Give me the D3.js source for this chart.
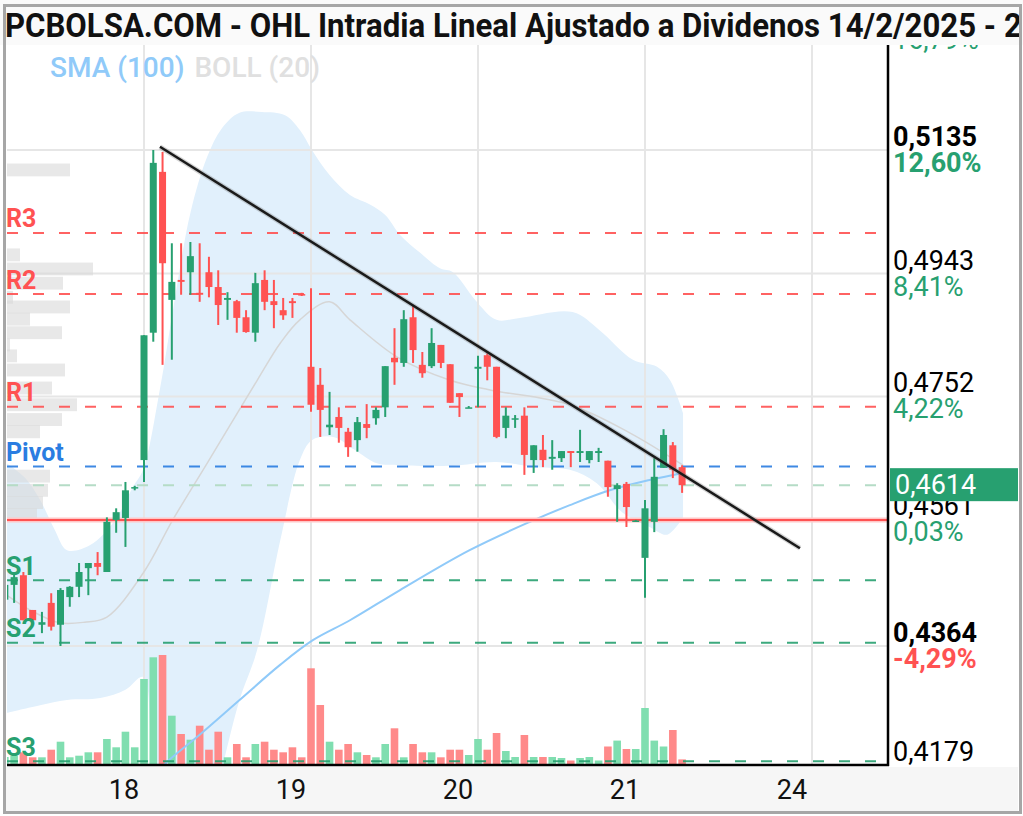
<!DOCTYPE html>
<html>
<head>
<meta charset="utf-8">
<script src="https://cdn.jsdelivr.net/npm/d3@7"></script>
<style>
  body { margin: 0; background: #fff; }
  svg { display: block; font-family: Roboto, "Noto Sans", sans-serif; }
</style>
</head>
<body>
<div id="chart"></div>
<script>
// ---- datos (velas de 30 min, 18 huecos por dia) ----
const firstSlot = -15; // primer hueco visible: slot 3 del dia 17

const opens = [
  0.4436, 0.4459, 0.4474, 0.4420, 0.4397, 0.4431, 0.4397, 0.4440, 0.4456, 0.4485, 0.4493, 0.4479, 0.4560, 0.4563, 0.4610,
  0.4653, 0.4851, 0.5101, 0.4902, 0.4933, 0.4945, 0.4913, 0.4945, 0.4922, 0.4902, 0.4900, 0.4875, 0.4851, 0.4933, 0.4900, 0.4886, 0.4900, 0.4911,
  0.4798, 0.4770, 0.4704, 0.4720, 0.4697, 0.4684, 0.4709, 0.4718, 0.4735, 0.4812, 0.4804, 0.4875, 0.4801, 0.4799, 0.4832, 0.4802, 0.4757, 0.4735,
  0.4795, 0.4816, 0.4798, 0.4703, 0.4716, 0.4722, 0.4653, 0.4669, 0.4655, 0.4656, 0.4667, 0.4664, 0.4653, 0.4664, 0.4652, 0.4608, 0.4616, 0.4558,
  0.4501, 0.4557, 0.4641, 0.4676, 0.4642
];
const highs = [
  0.4471, 0.4479, 0.4479, 0.4420, 0.4417, 0.4446, 0.4454, 0.4457, 0.4493, 0.4493, 0.4510, 0.4564, 0.4578, 0.4619, 0.4613,
  0.4847, 0.5135, 0.5132, 0.4990, 0.4990, 0.4992, 0.4990, 0.4969, 0.4948, 0.4914, 0.4902, 0.4886, 0.4944, 0.4948, 0.4933, 0.4905, 0.4905, 0.4913,
  0.4920, 0.4796, 0.4759, 0.4735, 0.4703, 0.4720, 0.4740, 0.4735, 0.4799, 0.4858, 0.4886, 0.4894, 0.4821, 0.4858, 0.4832, 0.4802, 0.4757, 0.4737,
  0.4815, 0.4819, 0.4798, 0.4735, 0.4723, 0.4735, 0.4676, 0.4692, 0.4684, 0.4667, 0.4667, 0.4700, 0.4667, 0.4672, 0.4652, 0.4617, 0.4619, 0.4560,
  0.4591, 0.4656, 0.4701, 0.4681, 0.4645
];
const lows = [
  0.4415, 0.4431, 0.4404, 0.4404, 0.4384, 0.4388, 0.4364, 0.4425, 0.4440, 0.4443, 0.4474, 0.4479, 0.4540, 0.4518, 0.4606,
  0.4619, 0.4837, 0.4801, 0.4809, 0.4910, 0.4910, 0.4899, 0.4906, 0.4863, 0.4871, 0.4851, 0.4851, 0.4837, 0.4886, 0.4858, 0.4871, 0.4874, 0.4908,
  0.4728, 0.4689, 0.4692, 0.4680, 0.4658, 0.4666, 0.4687, 0.4708, 0.4720, 0.4770, 0.4798, 0.4804, 0.4781, 0.4796, 0.4796, 0.4742, 0.4720, 0.4734,
  0.4735, 0.4777, 0.4687, 0.4687, 0.4703, 0.4630, 0.4633, 0.4642, 0.4638, 0.4650, 0.4642, 0.4650, 0.4648, 0.4650, 0.4596, 0.4557, 0.4549, 0.4557,
  0.4439, 0.4541, 0.4641, 0.4625, 0.4602
];
const closes = [
  0.4459, 0.4471, 0.4404, 0.4404, 0.4401, 0.4394, 0.4451, 0.4456, 0.4479, 0.4493, 0.4487, 0.4557, 0.4572, 0.4606, 0.4611,
  0.4847, 0.5115, 0.4959, 0.4930, 0.4930, 0.4970, 0.4910, 0.4922, 0.4894, 0.4905, 0.4874, 0.4852, 0.4928, 0.4899, 0.4894, 0.4878, 0.4897, 0.4910,
  0.4739, 0.4731, 0.4708, 0.4703, 0.4673, 0.4712, 0.4703, 0.4731, 0.4799, 0.4805, 0.4872, 0.4824, 0.4788, 0.4835, 0.4804, 0.4742, 0.4751, 0.4735,
  0.4798, 0.4798, 0.4689, 0.4722, 0.4718, 0.4661, 0.4676, 0.4653, 0.4658, 0.4667, 0.4664, 0.4667, 0.4667, 0.4667, 0.4611, 0.4614, 0.4580, 0.4559,
  0.4578, 0.4627, 0.4692, 0.4638, 0.4614
];
const volumes = [
  80, 93, 127, 77, 77, 153, 233, 77, 93, 127, 127, 260, 177, 333, 177,
  860, 1077, 1100, 493, 310, 253, 393, 153, 333, 77, 210, 77, 210, 233, 153, 127, 177, 77,
  967, 600, 233, 153, 210, 127, 100, 77, 210, 367, 77, 210, 127, 127, 77, 153, 153, 100,
  260, 153, 320, 140, 80, 300, 80, 80, 80, 70, 45, 70, 80, 45, 185, 244, 160, 160,
  570, 244, 185, 350, 56
];

// Bandas de Bollinger (20) y SMA (100), puntos leidos (indice de hueco, precio)
const bollUpperIdx = [-14.8, -12.8, -11.2, -9.6, -8.3, -5.8, -3.1, -1.2, -0.1, 1.7, 3.3, 5.0, 6.8, 8.4, 10.3, 12.7, 15.2, 16.8, 18.1, 20.0, 22.2, 24.4, 26.0, 27.6, 29.7, 31.9, 33.3, 35.7, 38.0, 40.5, 46.2, 49.1, 52.7, 55.3, 56.7, 58.1];
const bollUpper = [0.4648, 0.4625, 0.4591, 0.4544, 0.4513, 0.4521, 0.4560, 0.4611, 0.4638, 0.4762, 0.4902, 0.5037, 0.5124, 0.5169, 0.5193, 0.5194, 0.5189, 0.5166, 0.5135, 0.5096, 0.5065, 0.5050, 0.5034, 0.5003, 0.4976, 0.4951, 0.4945, 0.4902, 0.4871, 0.4874, 0.4883, 0.4855, 0.4809, 0.4798, 0.4777, 0.4726];
const bollLowerIdx = [-14.8, -11.2, -8.3, -4.7, -2.0, -0.1, 0.9, 2.3, 5.0, 7.1, 8.5, 10.3, 12.2, 14.7, 16.8, 18.1, 20.4, 22.7, 25.1, 27.6, 33.0, 38.0, 42.3, 45.9, 48.8, 51.6, 54.5, 56.4, 58.1];
const bollLower = [0.4260, 0.4272, 0.4280, 0.4283, 0.4296, 0.4316, 0.4187, 0.4094, 0.4031, 0.4094, 0.4179, 0.4280, 0.4358, 0.4529, 0.4653, 0.4684, 0.4689, 0.4669, 0.4648, 0.4645, 0.4644, 0.4650, 0.4642, 0.4638, 0.4617, 0.4571, 0.4549, 0.4537, 0.4564];
const bollMidIdx = [-14.8, -12.3, -9.1, -6.4, -4.0, -0.1, 3.1, 6.8, 12.2, 14.7, 16.8, 20.0, 22.2, 27.3, 33.0, 37.3, 45.9, 52.4, 58.1];
const bollMid = [0.4443, 0.4420, 0.4400, 0.4401, 0.4409, 0.4477, 0.4560, 0.4648, 0.4777, 0.4835, 0.4871, 0.4899, 0.4871, 0.4813, 0.4777, 0.4762, 0.4739, 0.4695, 0.4645];
const smaIdx = [0.6, 2.5, 6.0, 10.3, 14.7, 18.2, 22.2, 27.6, 35.1, 41.6, 45.9, 50.2, 54.5, 58.1];
const sma100 = [0.4156, 0.4184, 0.4226, 0.4280, 0.4335, 0.4373, 0.4404, 0.4451, 0.4513, 0.4557, 0.4583, 0.4606, 0.4622, 0.4633];

// Linea de tendencia bajista
const trendIdx = [1.72, 70.7];
const trendVal = [0.5140, 0.4516];

// Pivotes
const levelNames = ["R3", "R2", "R1", "Pivot", "S1", "S2", "S3"];
const levelValues = [0.5006, 0.4911, 0.4736, 0.4643, 0.4466, 0.4369, 0.4185];
const lastPrice = 0.4614;
const prevClose = 0.4560;

// Perfil de volumen (precio central, volumen)
const profilePrices = [0.5104, 0.4972, 0.4950, 0.4928, 0.4906, 0.4891, 0.4872, 0.4851, 0.4832, 0.4815, 0.4793, 0.4765, 0.4739, 0.4716, 0.4697, 0.4628, 0.4606, 0.4587, 0.4568];
const profileVolumes = [630, 130, 860, 560, 60, 630, 230, 550, 30, 100, 580, 450, 700, 550, 330, 430, 410, 360, 300];

// Ejes
const dayLabels = ["18", "19", "20", "21", "24"];
const dayStarts = [0, 18, 36, 54, 72];
const priceTicks = [0.5326, 0.5135, 0.4943, 0.4752, 0.4561, 0.4364, 0.4179];
const priceTickPct = ["16,79%", "12,60%", "8,41%", "4,22%", "0,03%", "-4,29%", ""];
const priceTickBold = [false, true, false, false, false, true, false];

const titleText = "PCBOLSA.COM - OHL Intradia Lineal Ajustado a Dividenos 14/2/2025 - 21/2/2025";
const titleVisible = "PCBOLSA.COM - OHL Intradia Lineal Ajustado a Dividenos 14/2/2025 - 2";

// ---- estilos ----
const W = 1023, H = 816;
const plot = {left: 7, right: 888, top: 45, bottom: 765};
const green = "#27a070", red = "#ff5252", blue = "#2a7de1";
const volUp = "#80deb0", volDown = "#ff8a8a";

const fmt = v => d3.format(".4f")(v).replace(".", ",");

const svg = d3.select("#chart").append("svg")
  .attr("width", W)
  .attr("height", H);

const x = d3.scaleLinear().domain([0, 18]).range([144, 311]); // indice de hueco -> px
const y = d3.scaleLinear().domain([0.4179, 0.5135]).range([plot.bottom, 150]);
const yVol = d3.scaleLinear().domain([0, 1100]).range([plot.bottom, plot.bottom - 110]);
const profW = d3.scaleLinear().domain([0, 860]).range([0, 86]);

svg.append("defs").append("clipPath").attr("id", "clip")
  .append("rect")
  .attr("x", plot.left).attr("y", plot.top)
  .attr("width", plot.right - plot.left).attr("height", plot.bottom - plot.top);

const g = svg.append("g").attr("clip-path", "url(#clip)");

// Banda de Bollinger rellena
const curve = d3.curveCatmullRom;
const upperPts = bollUpperIdx.map((d, i) => [x(d), y(bollUpper[i])]);
const lowerPts = bollLowerIdx.map((d, i) => [x(d), y(bollLower[i])]).reverse();
const lineGen = d3.line().curve(curve);
g.append("path")
  .attr("d", lineGen(upperPts) + "L" + lineGen(lowerPts).slice(1) + "Z")
  .attr("fill", "#e1f0fc");

// Rejilla
g.selectAll(".hgrid")
  .data(priceTicks.slice(0, -1))
  .enter().append("line")
  .attr("x1", plot.left).attr("x2", plot.right)
  .attr("y1", d => y(d)).attr("y2", d => y(d))
  .attr("stroke", "#e6e6e6").attr("stroke-width", 2);

g.selectAll(".vgrid")
  .data(dayStarts)
  .enter().append("line")
  .attr("x1", d => x(d)).attr("x2", d => x(d))
  .attr("y1", plot.top).attr("y2", plot.bottom)
  .attr("stroke", "#e6e6e6").attr("stroke-width", 2);

// Perfil de volumen a la izquierda
g.selectAll(".prof")
  .data(profilePrices)
  .enter().append("rect")
  .attr("x", plot.left)
  .attr("y", d => y(d + 0.001))
  .attr("width", (d, i) => profW(profileVolumes[i]))
  .attr("height", y(0) - y(0.0020))
  .attr("fill", "#d8d8d8")
  .attr("opacity", 0.6);

// Volumen
g.selectAll(".vol")
  .data(volumes)
  .enter().append("rect")
  .attr("x", (d, i) => x(firstSlot + i) - 3.8)
  .attr("y", d => yVol(d))
  .attr("width", 7.6)
  .attr("height", d => plot.bottom - yVol(d))
  .attr("fill", (d, i) => closes[i] >= opens[i] ? volUp : volDown);

// Media de la banda y SMA 100
g.append("path")
  .attr("d", d3.line().curve(curve)(bollMidIdx.map((d, i) => [x(d), y(bollMid[i])])))
  .attr("fill", "none").attr("stroke", "#d6d6d6").attr("stroke-width", 1.5);

g.append("path")
  .attr("d", d3.line().curve(curve)(smaIdx.map((d, i) => [x(d), y(sma100[i])])))
  .attr("fill", "none").attr("stroke", "#90caf9").attr("stroke-width", 2);

// Niveles de pivote
const levelColor = name => name[0] === "R" ? red : (name[0] === "S" ? green : blue);

g.selectAll(".level")
  .data(levelValues)
  .enter().append("line")
  .attr("x1", plot.left).attr("x2", plot.right)
  .attr("y1", d => y(d)).attr("y2", d => y(d))
  .attr("stroke", (d, i) => levelColor(levelNames[i]))
  .attr("stroke-width", 2)
  .attr("stroke-dasharray", "11,15")
  .attr("opacity", 0.9);

// ultimo precio (verde claro) y cierre anterior (rojo)
g.append("line")
  .attr("x1", plot.left).attr("x2", plot.right)
  .attr("y1", y(lastPrice)).attr("y2", y(lastPrice))
  .attr("stroke", "#b5dcc6").attr("stroke-width", 2)
  .attr("stroke-dasharray", "11,15");

g.append("line")
  .attr("x1", plot.left).attr("x2", plot.right)
  .attr("y1", y(prevClose)).attr("y2", y(prevClose))
  .attr("stroke", "#ffc7c7").attr("stroke-width", 5);
g.append("line")
  .attr("x1", plot.left).attr("x2", plot.right)
  .attr("y1", y(prevClose)).attr("y2", y(prevClose))
  .attr("stroke", red).attr("stroke-width", 2);

// Velas
const candles = g.selectAll(".candle")
  .data(opens)
  .enter().append("g");

candles.append("line")
  .attr("x1", (d, i) => x(firstSlot + i)).attr("x2", (d, i) => x(firstSlot + i))
  .attr("y1", (d, i) => y(highs[i])).attr("y2", (d, i) => y(lows[i]))
  .attr("stroke", (d, i) => closes[i] >= opens[i] ? green : red)
  .attr("stroke-width", 2);

candles.append("rect")
  .attr("x", (d, i) => x(firstSlot + i) - 3.5)
  .attr("y", (d, i) => y(Math.max(opens[i], closes[i])))
  .attr("width", 7)
  .attr("height", (d, i) => Math.max(1.5, Math.abs(y(opens[i]) - y(closes[i]))))
  .attr("fill", (d, i) => closes[i] >= opens[i] ? green : red);

// Linea de tendencia
const trendPts = trendIdx.map((d, i) => [x(d), y(trendVal[i])]);
g.append("path")
  .attr("d", d3.line()(trendPts))
  .attr("stroke", "#777").attr("stroke-width", 5).attr("opacity", 0.3);
g.append("path")
  .attr("d", d3.line()(trendPts))
  .attr("stroke", "#1a1a1a").attr("stroke-width", 2.5);

// Etiquetas de los niveles
svg.selectAll(".levelLabel")
  .data(levelValues)
  .enter().append("text")
  .attr("x", plot.left - 1)
  .attr("y", d => y(d) - 14)
  .attr("dominant-baseline", "central")
  .attr("font-size", 25)
  .attr("font-weight", 700)
  .attr("fill", (d, i) => levelColor(levelNames[i]))
  .text((d, i) => levelNames[i]);

// Ejes
svg.append("line")
  .attr("x1", plot.right).attr("x2", plot.right)
  .attr("y1", plot.top).attr("y2", plot.bottom + 1)
  .attr("stroke", "#000").attr("stroke-width", 2.5);
svg.append("line")
  .attr("x1", plot.left).attr("x2", plot.right + 1)
  .attr("y1", plot.bottom).attr("y2", plot.bottom)
  .attr("stroke", "#000").attr("stroke-width", 2.5);

// Etiquetas de precio a la derecha
priceTicks.forEach((v, i) => {
  svg.append("text")
    .attr("x", plot.right + 5)
    .attr("y", y(v) - 13)
    .attr("dominant-baseline", "central")
    .attr("font-size", 27)
    .attr("font-weight", priceTickBold[i] ? 700 : 400)
    .attr("fill", "#000")
    .text(fmt(v));
  if (priceTickPct[i]) {
    svg.append("text")
      .attr("x", plot.right + 5)
      .attr("y", y(v) + 13)
      .attr("dominant-baseline", "central")
      .attr("font-size", 27)
      .attr("font-weight", priceTickBold[i] ? 700 : 400)
      .attr("fill", priceTickPct[i][0] === "-" ? red : green)
      .text(priceTickPct[i]);
  }
});

// Caja del ultimo precio
svg.append("rect")
  .attr("x", plot.right + 2)
  .attr("y", y(lastPrice) - 17)
  .attr("width", 128)
  .attr("height", 33)
  .attr("fill", green);
svg.append("text")
  .attr("x", plot.right + 7)
  .attr("y", y(lastPrice))
  .attr("dominant-baseline", "central")
  .attr("font-size", 27)
  .attr("fill", "#fff")
  .text(fmt(lastPrice));

// Zona del eje X
svg.append("rect")
  .attr("x", 5).attr("y", plot.bottom + 2)
  .attr("width", W - 10).attr("height", H - plot.bottom - 6)
  .attr("fill", "#f6f6f6");

svg.selectAll(".dayLabel")
  .data(dayStarts)
  .enter().append("text")
  .attr("x", d => x(d) - 20)
  .attr("y", plot.bottom + 25)
  .attr("text-anchor", "middle")
  .attr("dominant-baseline", "central")
  .attr("font-size", 27)
  .attr("fill", "#111")
  .text((d, i) => dayLabels[i]);

// Barra del titulo (letra algo estrecha, ajustada al ancho)
svg.append("rect")
  .attr("x", 0).attr("y", 0)
  .attr("width", W).attr("height", plot.top)
  .attr("fill", "#fafafa");

const title = svg.append("text")
  .attr("x", 0).attr("y", 0)
  .attr("font-size", 33)
  .attr("font-weight", 700)
  .attr("fill", "#111")
  .text(titleVisible);
const tw = title.node().getComputedTextLength();
title.attr("transform", "translate(5,37) scale(" + (1017 / tw) + ",1)").text(titleText);

// Leyenda
const sma = svg.append("text")
  .attr("x", 50).attr("y", 77)
  .attr("font-size", 28)
  .attr("font-weight", 500)
  .attr("fill", "#90caf9")
  .text("SMA (100)");
svg.append("text")
  .attr("x", 50 + sma.node().getComputedTextLength() + 10).attr("y", 77)
  .attr("font-size", 28)
  .attr("font-weight", 500)
  .attr("fill", "#e0e0e0")
  .text("BOLL (20)");

// Marco exterior
svg.append("rect")
  .attr("x", 4.5).attr("y", 5.5)
  .attr("width", W - 7).attr("height", H - 9)
  .attr("fill", "none")
  .attr("stroke", "#a6a6a6")
  .attr("stroke-width", 3);
</script>
</body>
</html>
